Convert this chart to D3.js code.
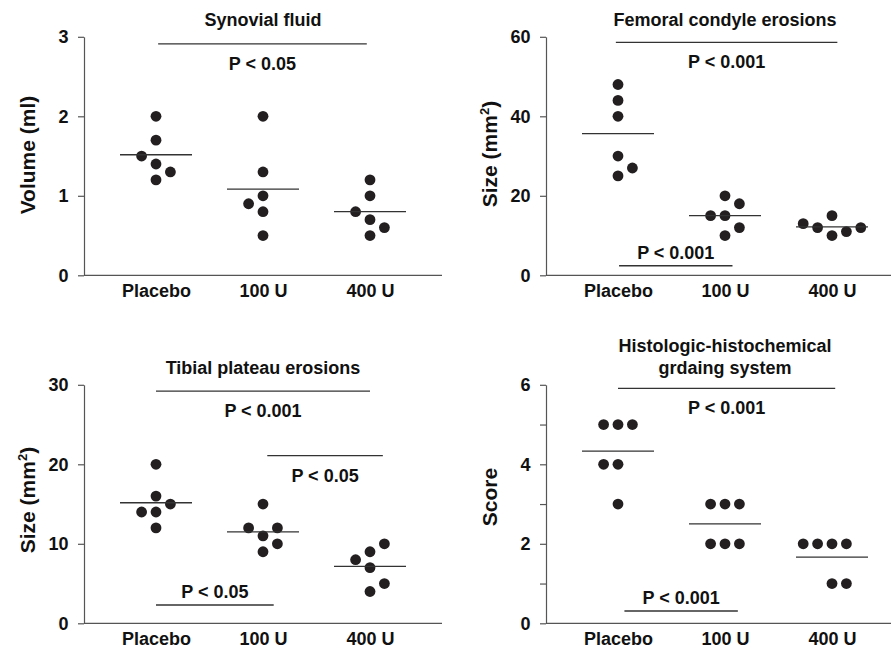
<!DOCTYPE html>
<html>
<head>
<meta charset="utf-8">
<script src="https://cdn.jsdelivr.net/npm/d3@7"></script>
<style>
  body { margin: 0; background: #fff; }
  svg { display: block; background: #fff; }
  text { font-family: "Liberation Sans", Arial, Helvetica, sans-serif; font-weight: bold; fill: #111; }
</style>
</head>
<body>
<svg id="chart" width="891" height="649"></svg>
<script>
'use strict';

var categories = ['Placebo', '100 U', '400 U'];

// Synovial fluid volume (ml)
var synovialValues = [
  [2.0, 1.7, 1.5, 1.4, 1.3, 1.2],
  [2.0, 1.3, 1.0, 0.9, 0.8, 0.5],
  [1.2, 1.0, 0.8, 0.7, 0.6, 0.5]
];
var synovialTicks = [0, 1, 2, 3];
var synovialBrackets = [
  { from: 0.02, to: 1.97, y: 2.91, label: 'P < 0.05', below: true }
];

// Femoral condyle erosions (mm2)
var femoralValues = [
  [48, 44, 40, 30, 27, 25],
  [20, 18, 15, 15, 12, 10],
  [13, 12, 15, 10, 11, 12]
];
var femoralTicks = [0, 20, 40, 60];
var femoralBrackets = [
  { from: -0.02, to: 2.05, y: 58.6, label: 'P < 0.001', below: true },
  { from: 0.01, to: 1.07, y: 2.4, label: 'P < 0.001', below: false }
];

// Tibial plateau erosions (mm2)
var tibialValues = [
  [20, 16, 15, 14, 14, 12],
  [15, 12, 12, 11, 10, 9],
  [10, 9, 8, 7, 5, 4]
];
var tibialTicks = [0, 10, 20, 30];
var tibialBrackets = [
  { from: 0.0, to: 2.0, y: 29.2, label: 'P < 0.001', below: true },
  { from: 1.04, to: 2.12, y: 21.1, label: 'P < 0.05', below: true },
  { from: 0.0, to: 1.1, y: 2.3, label: 'P < 0.05', below: false }
];

// Histologic-histochemical grading score
var scoreValues = [
  [5, 5, 5, 4, 4, 3],
  [3, 3, 3, 2, 2, 2],
  [2, 2, 2, 2, 1, 1]
];
var scoreTicks = [0, 1, 2, 3, 4, 5, 6];
var scoreTickLabels = [0, 2, 4, 6];
var scoreBrackets = [
  { from: 0.0, to: 2.03, y: 5.91, label: 'P < 0.001', below: true },
  { from: 0.06, to: 1.12, y: 0.31, label: 'P < 0.001', below: false }
];

// side-by-side slots of the dots, as in the picture (-1 left, 0 centre, +1 right)
var synovialSlots = [[0, 0, -1, 0, 1, 0], [0, 0, 0, -1, 0, 0], [0, 0, -1, 0, 1, 0]];
var femoralSlots = [[0, 0, 0, 0, 1, 0], [0, 1, -1, 0, 1, 0], [-2, -1, 0, 0, 1, 2]];
var tibialSlots = [[0, 0, 1, -1, 0, 0], [0, -1, 1, 0, 1, 0], [1, 0, -1, 0, 1, 0]];
var scoreSlots = [[-1, 0, 1, -1, 0, 0], [-1, 0, 1, -1, 0, 1], [-2, -1, 0, 1, 0, 1]];

// ─── layout ─────────────────────────────────────────────────────────────────

var PLOT_W = 358;
var PLOT_H = 238.5;
var SLOT_STEP = 14.4;
var DOT_R = 5.4;
var MEAN_HALF = 36;
var AXIS_COLOR = '#555';
var LINE_COLOR = '#333';

var panels = [
  { title: ['Synovial fluid'], yLabel: 'Volume (ml)', values: synovialValues, slots: synovialSlots,
    ticks: synovialTicks, labels: synovialTicks, max: 3, brackets: synovialBrackets,
    left: 84, bottom: 275.3, labelShift: -1 },
  { title: ['Femoral condyle erosions'], yLabel: 'mm2', values: femoralValues, slots: femoralSlots,
    ticks: femoralTicks, labels: femoralTicks, max: 60, brackets: femoralBrackets,
    left: 546, bottom: 275.3, labelShift: -2 },
  { title: ['Tibial plateau erosions'], yLabel: 'mm2', values: tibialValues, slots: tibialSlots,
    ticks: tibialTicks, labels: tibialTicks, max: 30, brackets: tibialBrackets,
    left: 84, bottom: 623.3, labelShift: -4 },
  { title: ['Histologic-histochemical', 'grdaing system'], yLabel: 'Score', values: scoreValues, slots: scoreSlots,
    ticks: scoreTicks, labels: scoreTickLabels, max: 6, brackets: scoreBrackets,
    left: 546, bottom: 623.3, labelShift: -7 }
];

var svg = d3.select('#chart');

var x = d3.scalePoint().domain(categories).range([72, 286]);
var xIdx = d3.scaleLinear().domain([0, 2]).range([72, 286]);

panels.forEach(function (p) {
  var g = svg.append('g')
    .attr('transform', 'translate(' + p.left + ',' + (p.bottom - PLOT_H) + ')');

  var y = d3.scaleLinear().domain([0, p.max]).range([PLOT_H, 0]);

  // y axis
  var yAxis = g.append('g')
    .call(d3.axisLeft(y)
      .tickValues(p.ticks)
      .tickSize(6)
      .tickSizeOuter(0)
      .tickPadding(9.5)
      .tickFormat(function (d) { return p.labels.indexOf(d) >= 0 ? d : ''; }));
  yAxis.attr('font-family', null).attr('font-size', null);
  yAxis.selectAll('path, line').attr('stroke', AXIS_COLOR).attr('stroke-width', 1.2);
  yAxis.selectAll('text').style('font-size', '18px').attr('fill', '#111');

  // x axis: baseline plus category labels
  g.append('line')
    .attr('x1', 0).attr('x2', PLOT_W)
    .attr('y1', PLOT_H).attr('y2', PLOT_H)
    .attr('stroke', AXIS_COLOR).attr('stroke-width', 1.2);
  var xAxis = g.append('g')
    .attr('transform', 'translate(0,' + PLOT_H + ')')
    .call(d3.axisBottom(x).tickSize(0).tickPadding(9));
  xAxis.attr('font-family', null).attr('font-size', null);
  xAxis.select('.domain').remove();
  xAxis.selectAll('text').style('font-size', '18px').attr('fill', '#111');

  // title
  p.title.forEach(function (t, i) {
    g.append('text')
      .attr('x', 179)
      .attr('y', -11 - (p.title.length - 1 - i) * 22)
      .attr('text-anchor', 'middle')
      .style('font-size', '18px')
      .text(t);
  });

  // y label
  var yl = g.append('text')
    .attr('transform', 'translate(-49.5,' + (PLOT_H / 2 + p.labelShift) + ') rotate(-90)')
    .attr('text-anchor', 'middle')
    .style('font-size', '21px');
  if (p.yLabel === 'mm2') {
    yl.append('tspan').text('Size (mm');
    yl.append('tspan').attr('dy', -8).style('font-size', '13px').text('2');
    yl.append('tspan').attr('dy', 8).text(')');
  } else {
    yl.text(p.yLabel);
  }

  // dots and mean lines
  categories.forEach(function (cat, ci) {
    var vals = p.values[ci];
    var cx = x(cat);
    g.selectAll(null)
      .data(vals)
      .enter().append('circle')
      .attr('cx', function (d, i) { return cx + p.slots[ci][i] * SLOT_STEP; })
      .attr('cy', function (d) { return y(d); })
      .attr('r', DOT_R)
      .attr('fill', '#231f20');

    var m = d3.mean(vals);
    g.append('line')
      .attr('x1', cx - MEAN_HALF).attr('x2', cx + MEAN_HALF)
      .attr('y1', y(m)).attr('y2', y(m))
      .attr('stroke', LINE_COLOR).attr('stroke-width', 1.3);
  });

  // significance brackets
  p.brackets.forEach(function (b) {
    var by = y(b.y);
    g.append('line')
      .attr('x1', xIdx(b.from)).attr('x2', xIdx(b.to))
      .attr('y1', by).attr('y2', by)
      .attr('stroke', LINE_COLOR).attr('stroke-width', 1.3);
    g.append('text')
      .attr('x', (xIdx(b.from) + xIdx(b.to)) / 2)
      .attr('y', b.below ? by + 26 : by - 7)
      .attr('text-anchor', 'middle')
      .style('font-size', '18px')
      .text(b.label);
  });
});
</script>
</body>
</html>
